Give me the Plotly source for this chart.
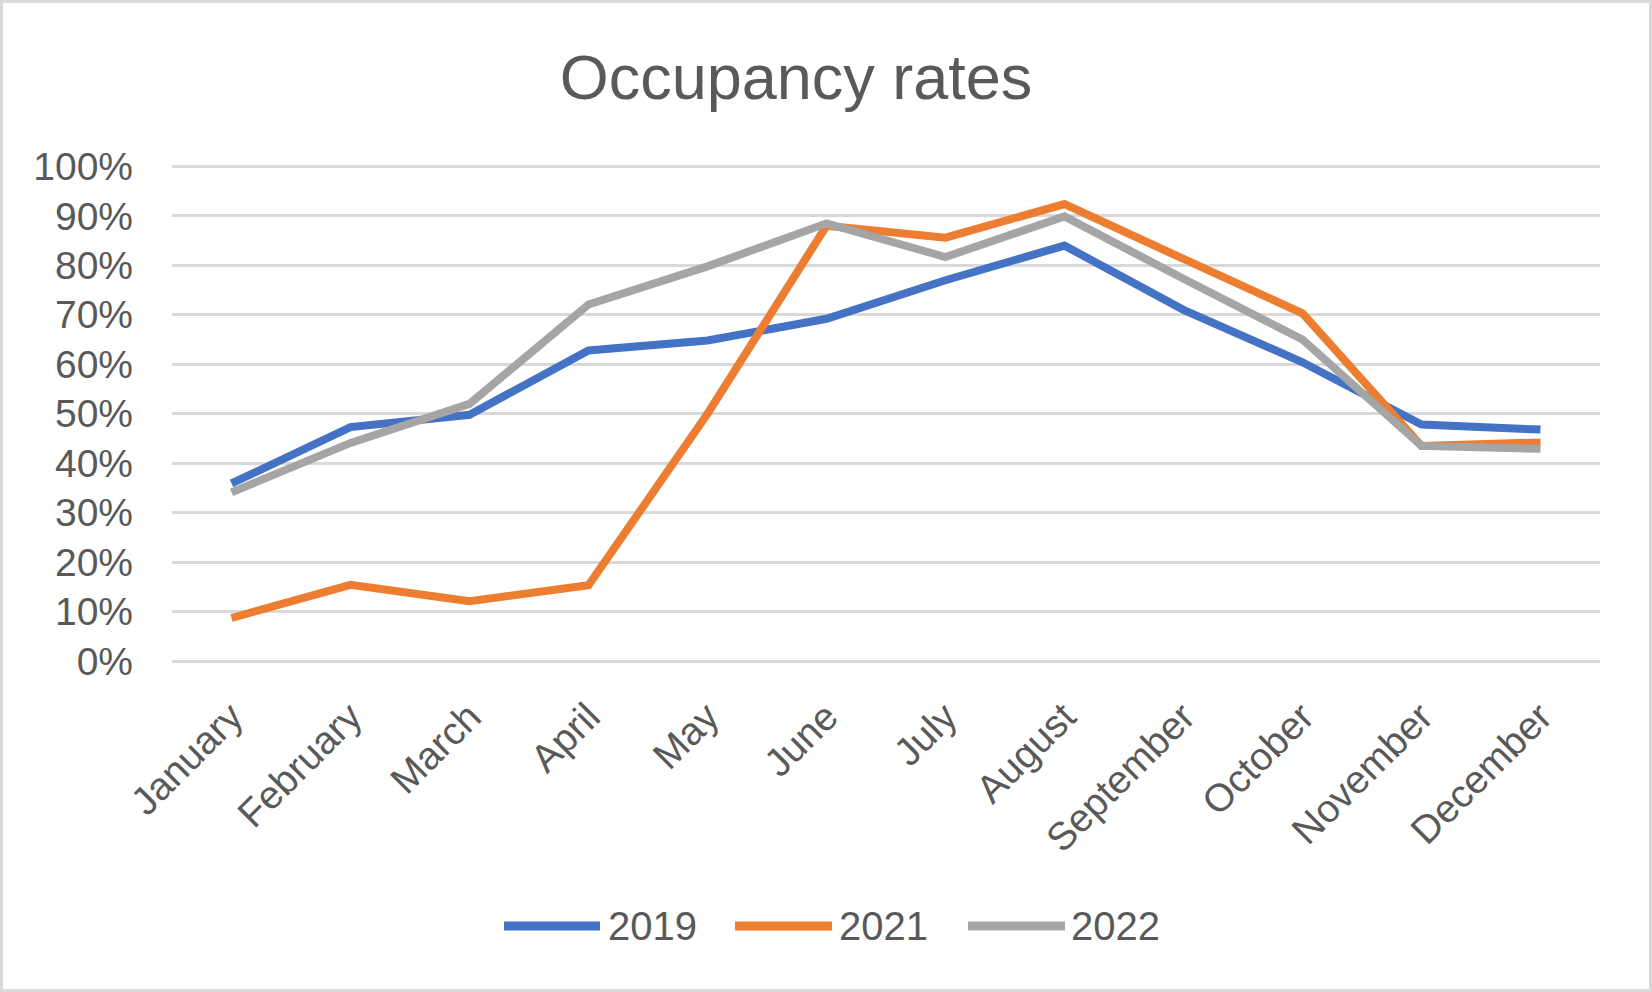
import plotly.graph_objects as go

months = ["January", "February", "March", "April", "May", "June", "July",
          "August", "September", "October", "November", "December"]
rates_2019 = [35.9, 47.3, 49.8, 62.8, 64.8, 69.2, 77.0, 84.0, 71.0, 60.4, 47.8, 46.8]
rates_2021 = [8.7, 15.4, 12.1, 15.3, 50.0, 88.0, 85.6, 92.4, 81.3, 70.3, 43.5, 44.2]
rates_2022 = [34.1, 44.1, 52.0, 72.1, 79.8, 88.5, 81.7, 89.9, 77.3, 65.0, 43.5, 42.9]
series_names = ["2019", "2021", "2022"]
colors = ["#4472C4", "#ED7D31", "#A5A5A5"]
y_ticks = [0, 0.1, 0.2, 0.3, 0.4, 0.5, 0.6, 0.7, 0.8, 0.9, 1.0]

W, H = 1652, 992
L, R, T, B = 172, 52, 165, 331
PW, PH = W - L - R, H - T - B
FONT = "Liberation Sans, Arial, sans-serif"
TXT = "#595959"

fig = go.Figure()
for name, vals, c in zip(series_names, [rates_2019, rates_2021, rates_2022], colors):
    fig.add_trace(go.Scatter(x=months, y=[v / 100 for v in vals], mode="lines", name=name,
                             line=dict(color=c, width=8), showlegend=False))

def px_x(px):
    return (px - L) / PW

def px_y(py):
    return (H - B - py) / PH

shapes = [dict(type="rect", xref="paper", yref="paper",
               x0=px_x(1.5), x1=px_x(W - 1.5), y0=px_y(H - 1.5), y1=px_y(1.5),
               line=dict(color="#D9D9D9", width=3), fillcolor="rgba(0,0,0,0)", layer="below")]
annotations = []
legend_items = [(504, 600, 606), (735, 832, 837), (968, 1065, 1069)]
for (lx0, lx1, tx), name, c in zip(legend_items, series_names, colors):
    shapes.append(dict(type="line", xref="paper", yref="paper",
                       x0=px_x(lx0), x1=px_x(lx1), y0=px_y(926), y1=px_y(926),
                       line=dict(color=c, width=9)))
    annotations.append(dict(xref="paper", yref="paper", x=px_x(tx), y=px_y(926),
                            text=name, showarrow=False, xanchor="left", yanchor="middle",
                            font=dict(family=FONT, size=40, color=TXT)))

fig.update_layout(
    width=W, height=H,
    margin=dict(l=L, r=R, t=T, b=B, pad=0),
    paper_bgcolor="white", plot_bgcolor="white",
    title=dict(text="Occupancy rates", x=796 / W, xref="container", xanchor="center",
               y=1 - 77 / H, yref="container", yanchor="middle",
               font=dict(family=FONT, size=63, color=TXT)),
    xaxis=dict(type="category", range=[-0.5, 11.5], showgrid=False, showline=False,
               zeroline=False, ticks="", tickangle=-45, ticklabelstandoff=24,
               tickfont=dict(family=FONT, size=39, color=TXT)),
    yaxis=dict(range=[0, 1.003], tickvals=y_ticks, tickformat=".0%", showgrid=True,
               gridcolor="#D9D9D9", gridwidth=2.5, zeroline=True, zerolinecolor="#D9D9D9",
               zerolinewidth=2.5, showline=False, ticks="", ticklabelstandoff=38,
               tickfont=dict(family=FONT, size=39, color=TXT)),
    shapes=shapes, annotations=annotations,
)
fig.write_html("out.html")
